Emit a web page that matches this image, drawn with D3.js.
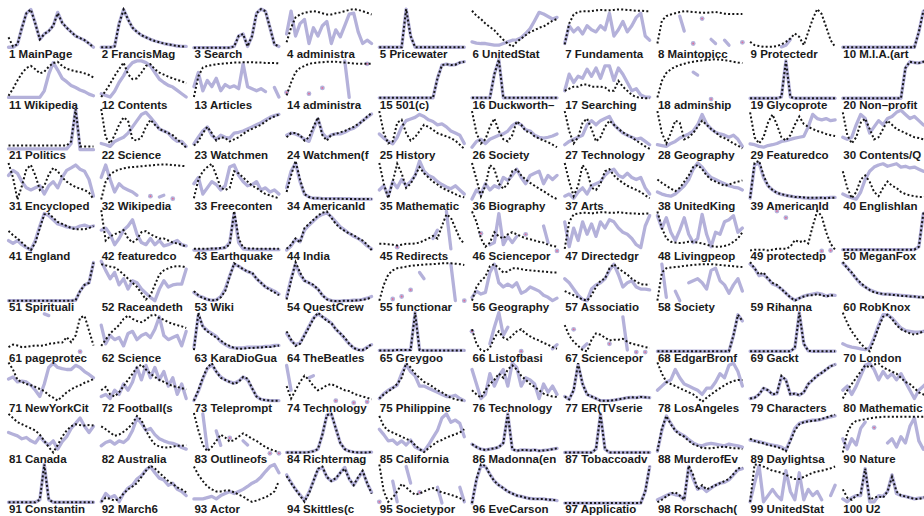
<!DOCTYPE html>
<html><head><meta charset="utf-8">
<script src="https://cdn.jsdelivr.net/npm/d3@7"></script>
<style>body{margin:0;background:#fff;overflow:hidden}</style>
</head><body><svg id="chart" width="924" height="516"></svg>
<script>
const _ = null;
const names = ["MainPage","FrancisMag","Search","administra","Pricewater","UnitedStat","Fundamenta","Maintopicc","Protectedr","M.I.A.(art",
"Wikipedia","Contents","Articles","administra","501(c)","Duckworth–","Searching","adminship","Glycoprote","Non–profit",
"Politics","Science","Watchmen","Watchmen(f","History","Society","Technology","Geography","Featuredco","Contents/Q",
"Encycloped","Wikipedia","Freeconten","AmericanId","Mathematic","Biography","Arts","UnitedKing","AmericanId","EnglishIan",
"England","featuredco","Earthquake","India","Redirects","Sciencepor","Directedgr","Livingpeop","protectedp","MeganFox",
"Spirituali","Raceandeth","Wiki","QuestCrew","functionar","Geography","Associatio","Society","Rihanna","RobKnox",
"pageprotec","Science","KaraDioGua","TheBeatles","Greygoo","Listofbasi","Sciencepor","EdgarBronf","Gackt","London",
"NewYorkCit","Football(s","Teleprompt","Technology","Philippine","Technology","ER(TVserie","LosAngeles","Characters","Mathematic",
"Canada","Australia","Outlineofs","Richtermag","California","Madonna(en","Tobaccoadv","MurderofEv","Daylightsa","Nature",
"Constantin","March6","Actor","Skittles(c","Societypor","EveCarson","Applicatio","Rorschach(","UnitedStat","U2"];

// dotted (black) series, one row per panel, 20 points each, 0-100
const dotted = [
[27,5,10,50,85,94,60,22,35,42,55,85,62,50,40,30,25,20,12,3],
[3,3,3,5,60,94,70,50,40,32,27,22,18,15,12,10,8,6,5,5],
[2,2,2,2,2,2,2,2,2,5,30,35,5,30,85,95,90,50,10,5],
[15,50,75,82,86,88,90,88,85,82,82,85,87,90,93,95,93,90,86,82],
[3,3,3,3,3,3,95,30,3,3,3,3,3,3,3,3,3,3,3,3],
[91,79,71,60,52,44,32,21,12,4,16,24,32,40,44,50,53,60,67,71],
[10,60,82,88,90,90,90,92,93,92,92,93,94,94,93,92,91,91,90,90],
[12,67,78,82,85,88,90,89,88,87,86,86,87,88,86,84,83,83,83,83],
[16,8,6,4,4,4,6,10,16,24,36,28,8,40,71,95,83,52,20,4],
[3,3,3,3,3,3,3,3,3,3,3,3,3,3,3,3,3,40,90,95],
[8,25,45,62,75,80,72,62,66,78,87,90,80,73,70,67,65,62,58,52],
[5,20,37,56,72,88,60,48,50,64,80,84,72,64,59,54,50,46,43,38],
[5,55,76,80,82,84,85,86,87,88,88,89,89,89,88,88,87,87,87,86],
[9,40,65,75,80,85,87,88,89,90,90,90,89,88,87,86,85,85,85,85],
[3,3,3,3,3,3,3,3,3,3,3,3,3,50,82,84,82,83,88,90],
[3,3,3,3,3,60,95,3,3,3,3,3,3,3,3,3,3,3,3,3],
[20,25,30,30,35,35,30,30,30,28,20,20,44,30,20,10,5,3,2,2],
[4,44,63,72,78,82,85,88,90,92,93,94,95,96,95,94,92,90,88,87],
[2,2,2,2,2,2,2,5,92,5,2,2,2,2,2,2,2,2,2,2],
[2,2,2,2,2,2,2,2,2,2,2,2,2,2,75,90,88,87,90,90],
[10,10,10,10,10,10,10,10,10,10,10,10,10,10,20,98,8,8,8,8],
[98,30,15,35,60,78,70,25,22,30,55,72,60,50,45,40,35,25,15,5],
[10,20,40,55,40,22,30,28,20,25,30,38,45,50,55,60,68,75,80,85],
[30,40,40,35,22,30,55,78,35,22,36,38,42,45,50,55,62,68,80,88],
[93,40,15,20,65,72,40,22,30,45,60,55,48,40,36,32,28,22,12,2],
[93,40,15,25,55,75,45,25,20,35,68,60,45,42,32,27,22,18,12,6],
[93,45,15,30,65,75,50,20,30,55,70,60,50,42,35,30,22,15,8,2],
[93,40,15,40,70,65,25,30,40,55,70,60,50,42,32,28,22,15,10,3],
[90,30,15,30,65,85,60,30,22,35,60,80,62,55,50,45,42,38,35,33],
[90,35,15,30,65,75,50,25,30,50,70,60,50,45,40,35,30,28,25,22],
[90,55,2,35,75,85,60,25,35,62,78,70,55,45,38,32,28,25,18,3],
[2,45,62,70,74,77,79,80,81,82,83,84,85,86,86,86,85,84,83,82],
[5,50,70,80,88,60,30,25,30,70,65,55,45,35,30,22,15,12,8,5],
[20,60,95,50,15,8,5,5,4,4,4,4,4,3,3,3,3,3,3,3],
[90,40,5,45,88,65,30,40,60,80,65,55,45,38,30,25,20,15,10,7],
[90,50,10,35,85,75,40,28,40,70,75,60,50,42,35,28,22,15,8,3],
[90,45,10,35,85,70,30,25,40,70,75,60,50,42,35,30,25,20,12,5],
[50,42,35,28,22,30,45,60,80,85,75,60,50,45,40,35,38,42,45,48],
[5,90,95,60,35,25,18,15,12,10,8,8,7,6,6,6,6,5,6,6],
[70,30,5,20,50,60,45,20,10,30,45,35,30,20,15,12,10,8,8,10],
[48,38,30,20,10,2,20,55,88,90,80,70,65,60,55,52,52,52,55,60],
[98,25,35,40,45,50,30,20,28,45,48,40,35,30,30,25,20,18,15,10],
[5,5,5,5,6,6,7,8,15,96,30,8,6,6,5,5,5,5,5,5],
[5,15,30,20,55,65,75,85,92,95,80,65,55,48,42,38,30,25,15,2],
[17,17,16,15,13,15,17,17,18,20,25,30,36,30,60,88,80,55,30,17],
[95,70,30,10,20,45,35,30,40,45,40,35,30,28,25,22,20,15,12,10],
[5,70,88,90,92,92,90,92,93,93,92,92,93,92,91,90,90,89,90,90],
[95,55,30,22,20,19,20,22,22,20,18,15,12,10,10,12,15,22,30,45],
[1,3,3,3,1,3,5,5,5,10,26,21,25,18,60,96,84,45,17,3],
[3,3,3,3,3,3,3,3,3,3,3,3,3,3,3,3,3,10,90,95],
[2,2,2,2,2,2,2,2,2,2,2,2,2,2,2,3,25,40,45,94],
[90,87,84,82,75,65,55,45,35,20,5,15,40,65,75,80,84,85,85,82],
[25,15,8,5,3,3,10,25,60,92,85,78,72,70,55,45,35,28,22,15],
[5,50,95,70,50,45,40,30,15,5,2,1,1,2,2,2,3,4,6,10],
[2,40,65,75,80,82,84,86,87,88,89,90,90,91,92,92,92,91,90,88],
[2,35,50,60,85,90,80,70,72,80,80,78,76,75,74,73,72,71,70,70],
[25,20,15,10,5,2,15,35,50,55,80,90,80,72,65,55,48,42,40,42],
[2,70,80,82,83,84,86,87,88,89,90,90,90,89,88,87,86,85,84,83],
[95,80,65,70,55,45,40,30,20,10,2,8,12,15,15,18,15,12,15,14],
[95,80,70,55,45,35,28,22,20,18,17,16,15,14,13,12,12,10,10,10],
[12,18,16,12,13,14,16,15,16,20,21,23,23,36,24,40,83,87,52,16],
[15,30,45,55,65,80,88,80,75,72,78,88,90,82,78,72,68,65,62,58],
[5,95,60,50,42,35,28,20,15,10,8,8,10,10,11,11,12,12,14,16],
[50,30,15,20,40,60,80,95,85,75,70,55,45,35,20,10,5,5,10,20],
[4,4,4,4,5,5,5,5,95,5,4,4,4,4,4,4,4,4,4,4],
[55,20,5,2,10,35,50,35,30,40,50,55,45,38,32,28,22,18,12,8],
[65,40,25,15,5,2,30,45,42,35,28,30,30,32,25,20,18,15,12,10],
[2,2,2,2,2,2,2,2,2,2,2,2,2,2,2,2,2,40,90,75],
[2,2,2,2,2,2,2,2,2,2,10,95,20,3,2,2,2,2,2,2],
[95,70,50,35,20,10,2,30,60,85,90,80,65,55,50,45,42,45,50,55],
[97,80,55,50,45,42,38,33,28,18,12,5,15,25,32,38,42,48,52,57],
[30,38,20,15,25,40,55,70,85,92,80,70,62,55,50,45,40,38,35,32],
[5,30,60,85,95,75,60,55,50,45,50,62,58,35,15,8,6,5,5,5],
[40,10,30,50,65,55,40,30,35,42,45,40,35,30,28,22,18,15,12,8],
[10,20,27,35,45,60,95,85,70,60,50,45,38,30,25,18,12,8,6,5],
[30,20,12,30,45,55,70,60,80,90,80,65,55,45,38,30,22,18,15,14],
[15,8,30,95,45,20,15,10,5,5,5,6,8,10,12,13,12,14,13,12],
[97,70,50,45,40,35,30,25,20,12,2,12,20,28,35,42,48,52,55,55],
[10,12,20,35,30,20,22,65,55,20,22,18,25,45,55,65,72,80,88,92],
[10,30,45,60,75,90,85,92,95,85,80,75,70,60,50,45,35,25,20,15],
[95,85,75,70,65,60,55,45,30,15,2,20,40,55,65,70,68,67,68,67],
[65,58,50,42,45,52,60,72,90,80,55,35,22,16,14,14,16,18,18,20],
[97,55,20,5,15,30,45,38,28,32,40,48,42,35,30,22,15,10,6,3],
[2,2,2,2,2,3,5,10,45,92,95,60,25,10,5,3,2,2,2,3],
[90,65,55,50,45,40,35,30,20,10,3,12,20,28,32,38,42,46,50,58],
[22,15,10,8,10,12,15,25,95,10,6,8,8,7,8,6,7,8,10,12],
[2,2,2,2,2,2,2,10,95,10,2,2,2,2,2,2,2,2,2,2],
[5,60,90,70,55,45,40,30,22,18,13,12,12,14,15,16,14,12,12,10],
[35,30,26,24,20,18,15,12,5,30,55,70,75,77,78,80,83,86,90,93],
[2,50,70,78,80,82,84,86,87,88,88,88,88,88,88,88,88,88,88,88],
[4,4,4,4,4,4,4,10,95,10,4,4,4,4,4,4,4,4,4,4],
[5,15,12,8,12,25,35,42,50,65,80,92,85,75,65,55,48,40,35,28],
[90,70,55,42,35,30,30,32,32,28,22,18,10,5,8,12,16,22,30,55],
[67,50,35,20,5,25,55,85,90,65,55,62,75,85,60,45,65,80,50,25],
[95,30,5,15,30,48,40,30,22,25,30,35,38,32,28,25,22,18,14,8],
[2,60,95,92,70,55,45,38,30,25,20,18,15,13,12,12,12,10,10,8],
[2,2,2,2,2,2,2,2,2,2,2,2,2,2,2,2,2,2,30,90],
[4,10,18,25,28,20,10,92,70,35,45,35,40,45,50,55,60,72,85,88],
[5,95,94,90,85,80,78,75,70,65,60,60,65,70,75,78,80,83,86,90],
[35,15,10,20,25,85,10,15,18,15,30,65,30,20,18,15,12,12,15,18]
];

// purple series, one row per panel, 20 points each, 0-100, _ = missing
const purple = [
[3,3,10,50,85,94,60,22,35,42,55,87,62,50,40,30,25,20,12,3],
[3,3,3,5,60,94,70,50,40,32,27,22,18,15,12,10,8,6,5,5],
[2,2,2,2,2,2,2,2,2,5,30,35,5,30,85,95,90,50,10,5],
[35,90,30,60,70,12,50,30,55,65,12,45,28,55,83,85,40,12,20,12],
[3,3,3,3,3,3,95,30,3,3,3,3,3,3,3,3,3,3,3,3],
[16,13,12,12,10,8,8,12,16,20,21,26,36,48,67,87,83,77,71,75],
[12,55,40,50,35,55,45,40,55,45,85,30,45,65,40,55,75,85,30,20],
[_,_,_,_,_,78,42,_,12,_,72,_,22,12,_,20,8,_,_,15],
[_,_,_,_,_,_,_,4,8,22,_,_,_,_,_,_,_,_,_,_],
[3,3,3,3,3,3,3,3,3,3,3,3,3,3,3,3,3,40,90,95],
[4,4,4,4,4,4,4,4,20,60,88,70,50,42,33,28,22,18,12,8],
[13,9,5,19,40,56,76,88,92,92,88,80,64,48,40,33,29,21,13,5],
[30,64,20,45,30,50,20,35,28,32,25,85,30,25,20,25,18,_,28,5],
[16,_,_,_,_,13,_,_,27,_,_,_,_,92,4,_,_,_,85,_],
[3,3,3,3,3,3,3,3,3,3,3,3,3,50,82,84,82,83,88,90],
[3,3,3,3,3,60,95,3,3,3,3,3,3,3,3,3,3,3,3,3],
[20,60,40,55,50,72,55,75,50,80,80,45,75,60,40,20,25,10,5,5],
[_,_,_,_,_,_,_,_,65,58,_,_,0,_,_,_,_,_,_,_],
[2,2,2,2,2,2,2,5,92,5,2,2,2,2,2,2,2,2,2,2],
[2,2,2,2,2,2,2,2,2,2,2,2,2,2,75,90,88,87,90,90],
[2,2,2,2,2,2,2,2,2,2,2,2,2,2,15,98,0,0,0,0],
[15,12,8,20,25,30,40,55,70,85,90,78,65,50,45,40,28,20,20,8],
[14,30,45,55,35,25,35,30,28,40,42,45,50,55,60,65,72,78,82,85],
[35,40,38,33,25,20,50,74,40,28,36,38,38,42,48,52,60,70,78,86],
[38,28,20,14,30,55,70,74,78,85,80,72,68,60,62,55,45,40,35,15],
[6,20,25,15,25,30,35,38,45,58,65,60,48,45,35,30,28,30,33,38],
[12,20,25,30,35,60,70,60,70,75,80,60,50,40,35,30,25,28,20,12],
[12,10,8,15,20,28,33,38,45,60,85,62,50,42,38,35,30,35,25,8],
[14,12,8,6,10,12,15,20,22,25,28,30,32,55,85,75,72,75,70,72],
[30,25,30,60,85,75,40,55,70,60,75,80,90,95,85,75,80,70,60,55],
[60,72,65,45,30,25,30,35,15,35,45,30,55,72,78,85,75,70,50,10],
[55,85,50,20,40,30,25,20,12,_,_,10,_,8,12,_,4,_,_,_],
[40,55,15,30,45,38,25,35,80,85,60,45,35,38,45,25,30,20,25,15],
[30,70,90,45,15,8,5,5,4,4,4,4,4,4,4,3,3,3,3,3],
[25,35,10,45,30,50,35,45,60,95,70,60,55,45,38,32,28,35,25,15],
[3,25,15,40,25,35,30,55,48,60,75,55,40,60,65,70,40,60,50,60],
[10,15,5,20,30,15,35,40,45,60,70,75,60,55,65,55,50,55,30,15],
[20,15,12,10,15,25,35,50,75,90,80,65,55,50,45,40,35,32,30,25],
[5,85,90,55,35,25,18,14,12,10,8,7,6,5,5,5,6,6,7,7],
[15,10,6,3,20,50,70,80,85,88,82,85,88,80,82,78,80,75,70,70],
[25,18,25,15,8,2,25,60,90,85,75,65,62,58,56,55,60,62,58,60],
[50,55,40,15,30,50,60,75,40,20,15,30,15,25,12,15,20,25,15,12],
[2,2,2,3,4,5,6,8,20,90,20,5,4,3,3,3,3,3,3,3],
[2,12,28,22,50,62,72,82,88,92,82,70,58,50,42,35,30,22,12,5],
[_,_,_,_,9,_,_,_,_,_,_,_,30,50,_,95,5,_,_,_],
[_,_,42,_,15,20,90,15,35,20,35,_,40,_,_,_,60,20,_,0],
[70,10,55,25,70,40,65,35,70,55,75,70,55,45,40,30,15,8,60,85],
[85,55,80,45,25,50,80,40,20,30,88,40,10,45,40,70,75,85,45,55],
[_,_,_,_,_,_,96,_,80,_,_,_,_,_,_,_,0,_,1,_],
[3,3,3,3,3,3,3,3,3,3,3,3,3,3,3,3,3,10,90,95],
[2,2,2,2,2,2,2,2,2,2,2,2,2,2,2,3,25,40,45,94],
[97,75,55,70,40,55,30,50,45,30,20,10,2,30,50,35,40,42,42,78],
[22,14,10,5,3,4,12,30,62,90,85,78,72,68,55,45,35,30,25,18],
[10,55,90,65,50,45,38,30,15,6,2,1,1,2,2,3,3,5,8,12],
[_,_,_,6,_,12,_,28,_,70,55,_,_,_,_,_,90,2,_,2],
[10,25,18,22,70,90,45,35,42,35,45,20,25,35,30,25,15,10,2,8],
[55,45,30,15,5,2,30,40,45,55,75,90,65,35,45,50,35,30,30,28],
[_,90,10,_,25,2,_,45,50,55,45,30,75,80,50,40,20,40,55,25],
[90,80,62,65,55,42,38,30,20,10,3,8,13,16,18,20,18,13,16,15],
[92,82,68,55,42,35,28,24,20,18,18,17,16,15,14,13,12,11,10,10],
[_,_,_,_,_,_,_,_,92,88,_,_,_,_,_,_,1,_,_,_],
[65,20,40,30,35,15,45,50,30,40,45,35,55,85,40,30,35,40,15,50],
[10,90,62,52,45,38,25,18,12,10,10,10,12,12,12,12,14,14,16,16],
[45,28,18,22,42,62,82,92,85,78,70,55,45,32,20,10,6,4,12,18],
[4,4,4,4,5,5,5,5,95,5,4,4,4,4,4,4,4,4,4,4],
[50,_,_,_,20,60,95,40,60,_,_,2,_,_,_,_,_,_,8,18],
[_,_,55,_,10,20,_,_,_,_,20,_,_,85,5,_,0,_,0,_],
[2,2,2,2,2,2,2,2,2,2,2,2,2,2,2,2,2,40,90,75],
[2,2,2,2,2,2,2,2,2,2,10,95,20,3,2,2,2,2,2,2],
[20,15,12,10,8,6,10,35,65,90,90,82,70,58,52,50,48,48,50,52],
[57,62,50,52,50,42,30,15,45,85,95,85,82,80,80,90,85,75,68,60],
[15,20,10,30,20,45,30,50,85,55,90,60,85,55,75,40,60,20,45,10],
[5,28,58,82,92,75,62,55,50,47,52,62,55,35,15,8,6,5,5,5],
[90,30,_,_,_,60,65,_,_,_,_,5,_,_,_,0,_,_,2,_],
[10,22,30,36,42,70,92,75,65,40,40,35,30,25,20,15,15,18,10,5],
[80,45,10,20,70,40,65,80,40,95,85,40,60,55,45,10,45,25,40,20],
[15,8,30,92,45,20,15,10,5,5,5,6,8,10,12,13,12,14,13,12],
[30,40,50,55,80,60,45,40,35,30,20,35,35,50,70,60,90,95,75,40],
[10,12,20,35,30,20,22,62,55,20,22,18,25,45,55,65,72,80,88,92],
[30,40,20,40,65,90,95,80,55,75,60,70,55,70,50,30,10,30,40,50],
[50,46,42,35,38,30,25,40,28,20,30,10,28,40,60,72,85,65,50,65],
[18,26,30,22,30,26,35,55,85,72,55,60,45,35,30,26,24,20,14,10],
[_,_,95,10,_,54,19,_,37,_,_,30,20,_,_,_,_,0,_,0],
[2,2,2,2,2,3,5,10,45,92,95,60,25,10,5,3,2,2,2,3],
[58,45,30,32,22,30,20,32,15,10,5,20,38,55,85,95,75,80,72,40],
[22,15,10,8,10,12,15,25,95,10,6,8,8,7,8,6,7,8,10,12],
[2,2,2,2,2,2,2,10,95,10,2,2,2,2,2,2,2,2,2,2],
[5,55,90,72,55,48,42,33,25,20,18,22,24,22,20,18,22,20,18,15],
[32,30,28,25,22,20,18,15,8,32,60,72,75,78,80,80,82,85,88,90],
[35,10,35,20,60,75,_,62,_,_,25,35,15,40,25,65,85,30,10,20],
[4,4,4,4,4,4,4,10,95,10,4,4,4,4,4,4,4,4,4,4],
[5,25,15,20,5,25,38,45,60,68,82,90,75,62,58,45,50,35,30,20],
[12,12,12,15,18,12,20,25,30,25,30,35,42,50,55,65,78,90,95,75],
[70,52,35,22,8,28,55,82,88,65,55,60,75,88,60,45,62,78,50,28],
[5,_,_,55,5,_,90,50,_,28,_,_,_,40,2,_,_,_,40,5],
[2,58,92,90,72,55,45,38,30,25,20,18,15,13,12,12,12,10,10,8],
[2,2,2,2,2,2,2,2,2,2,2,2,2,2,2,2,2,2,30,90],
[10,15,20,25,22,20,10,90,60,35,40,30,38,45,50,52,58,70,82,85],
[5,50,92,5,20,35,20,10,80,30,10,75,10,35,20,30,10,_,20,45],
[12,5,15,20,20,85,5,5,20,18,30,70,25,20,18,15,12,14,15,18]
];

const PURPLE = "#b4b1da";
const nCols = 10, colStep = 92.7, rowStep = 50.6, panelW = 85;
const svg = d3.select("#chart");

const gLines = svg.append("g");
const gLabels = svg.append("g");

names.forEach((nm, k) => {
  const c = k % nCols, r = Math.floor(k / nCols);
  const x0 = 8.5 + c * colStep;
  const yTop = 7 + r * rowStep, yBot = 48.5 + r * rowStep;
  const x = d3.scaleLinear().domain([0, 19]).range([x0, x0 + panelW]);
  const y = d3.scaleLinear().domain([0, 100]).range([yBot, yTop]);
  const line = d3.line().defined(v => v != null).x((v, i) => x(i)).y(v => y(v));

  const pv = purple[k];
  gLines.append("path").attr("d", line(pv))
    .attr("fill", "none").attr("stroke", PURPLE).attr("stroke-width", 3.3)
    .attr("stroke-linejoin", "round").attr("stroke-linecap", "round");
  const iso = pv.map((v, i) => ({v, i})).filter(o => o.v != null &&
     (o.i === 0 || pv[o.i - 1] == null) && (o.i === pv.length - 1 || pv[o.i + 1] == null));
  gLines.selectAll(null).data(iso).enter().append("circle")
    .attr("cx", o => x(o.i)).attr("cy", o => y(o.v)).attr("r", 2.4).attr("fill", PURPLE);
  gLines.selectAll(null).data(iso).enter().append("circle")
    .attr("cx", o => x(o.i)).attr("cy", o => y(o.v)).attr("r", 0.9).attr("fill", "#e46c96");

  gLines.append("path").attr("d", line(dotted[k]))
    .attr("fill", "none").attr("stroke", "#151515").attr("stroke-width", 2)
    .attr("stroke-dasharray", "2,2.2");

  gLabels.append("text")
    .attr("x", x0 + 0.5).attr("y", 58 + r * rowStep)
    .attr("font-family", "Liberation Sans, Arial, Helvetica, sans-serif")
    .attr("font-size", 11.5).attr("font-weight", "bold").attr("fill", "#1a1a1a")
    .text((k + 1) + " " + nm);
});
</script>
</body></html>
